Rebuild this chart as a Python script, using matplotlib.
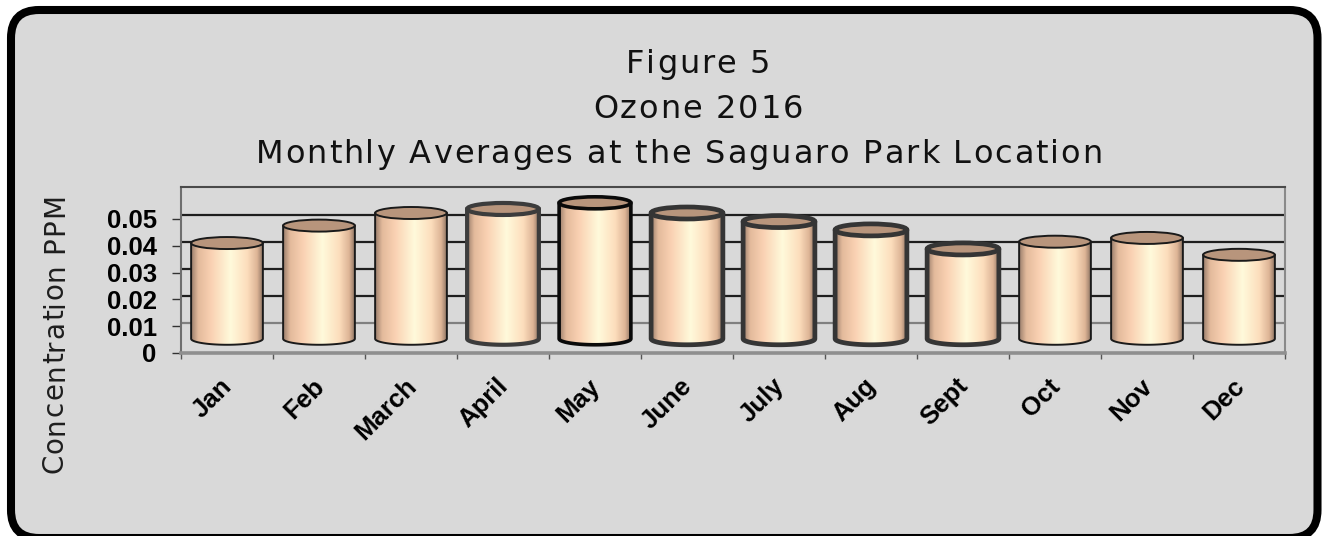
import numpy as np
import matplotlib
matplotlib.use("Agg")
import matplotlib.pyplot as plt
from matplotlib.patches import FancyBboxPatch, Ellipse, Polygon
from matplotlib.transforms import ScaledTranslation
from matplotlib.colors import LinearSegmentedColormap
from matplotlib.font_manager import FontProperties, findfont, get_font

# ---------------- data ----------------
months = ["Jan", "Feb", "March", "April", "May", "June",
          "July", "Aug", "Sept", "Oct", "Nov", "Dec"]
ozone_ppm = [0.0397, 0.0462, 0.0509, 0.0524, 0.0547, 0.0509,
             0.0477, 0.0446, 0.0375, 0.0402, 0.0416, 0.0353]
y_ticks = [0, 0.01, 0.02, 0.03, 0.04, 0.05]
y_tick_labels = ["0", "0.01", "0.02", "0.03", "0.04", "0.05"]
title_lines = ["Figure 5", "Ozone 2016",
               "Monthly Averages at the Saguaro Park Location"]
y_label = "Concentration PPM"

# ---------------- styles ----------------
edge_colors = ["#1a1a1a", "#1a1a1a", "#1a1a1a", "#3c3c3c", "#0a0a0a", "#353535",
               "#353535", "#353535", "#353535", "#1a1a1a", "#1a1a1a", "#1a1a1a"]
edge_widths = [1.4, 1.4, 1.4, 3.0, 2.6, 3.4, 3.4, 3.4, 3.4, 1.4, 1.4, 1.4]
grid_colors = ["#808080", "#1e1e1e", "#1e1e1e", "#1e1e1e", "#1e1e1e"]
top_fill = "#b8957c"
grad_cmap = LinearSegmentedColormap.from_list("cyl", [
    (0.00, (0.60, 0.49, 0.42)),
    (0.10, (0.89, 0.73, 0.61)),
    (0.28, (0.98, 0.82, 0.70)),
    (0.55, (1.00, 0.98, 0.86)),
    (0.78, (0.99, 0.87, 0.74)),
    (0.92, (0.87, 0.71, 0.59)),
    (1.00, (0.56, 0.46, 0.39)),
])

W, H = 1324, 536
DPI = 100
fig = plt.figure(figsize=(W / DPI, H / DPI), dpi=DPI)
fig.patch.set_facecolor("white")

# background rounded frame (pixel coordinates, y downward)
bg = fig.add_axes([0, 0, 1, 1])
bg.set_xlim(0, W)
bg.set_ylim(H, 0)
bg.axis("off")
bg.add_patch(FancyBboxPatch((11, 10), 1306.5, 528,
                            boxstyle="round,pad=0,rounding_size=28",
                            fc="#d9d9d9", ec="black", lw=5.8))


def char_advances(s, size_pt, family):
    fp = FontProperties(family=family, size=size_pt)
    font = get_font(findfont(fp))
    font.set_size(size_pt, DPI)
    adv = []
    for c in s:
        g = font.load_char(ord(c))
        adv.append(g.linearHoriAdvance / 65536.0)
    return adv


def spaced_text(s, size_pt, family, tracking, color, x=None, y=None,
                center=None, vertical=False):
    adv = char_advances(s, size_pt, family)
    total = sum(adv) + tracking * (len(s) - 1)
    pos = 0.0
    if vertical:
        start = center + total / 2
        for c, a in zip(s, adv):
            bg.text(x, start - pos, c, rotation=90, rotation_mode="anchor",
                    ha="left", va="baseline", fontsize=size_pt,
                    family=family, color=color)
            pos += a + tracking
    else:
        start = center - total / 2
        for c, a in zip(s, adv):
            bg.text(start + pos, y, c, ha="left", va="baseline",
                    fontsize=size_pt, family=family, color=color)
            pos += a + tracking


# titles
title_pos = [(698, 73), (698, 118), (679, 163)]
for (tx, ty), s in zip(title_pos, title_lines):
    spaced_text(s, 23, "DejaVu Sans", 1.9, "#111111", y=ty, center=tx)

spaced_text(y_label, 20, "DejaVu Sans", 1.1, "#1e1e1e", x=63, center=333,
            vertical=True)

# main axes
ax_left, ax_right, ax_bottom, ax_top = 181, 1285, 353, 187
ax = fig.add_axes([ax_left / W, 1 - ax_bottom / H,
                   (ax_right - ax_left) / W, (ax_bottom - ax_top) / H])
ax.patch.set_alpha(0)
YMAX = 0.0619
XMIN, XMAX = -0.5, len(months) - 0.5
px = YMAX / (ax_bottom - ax_top)  # data units per pixel

shift = ScaledTranslation(0, 3.5 / DPI, fig.dpi_scale_trans)
tr = ax.transData + shift

# back-wall gridlines
for v, gc in zip(y_ticks[1:], grid_colors):
    ax.plot([XMIN, XMAX], [v, v], transform=tr, color=gc, lw=1.6, zorder=1)

# cylinders
FLOOR = 0.004
bw = 0.78
eh = 6 * px
grad = grad_cmap(np.linspace(0, 1, 256))[None, :, :3]
t = np.linspace(np.pi, 2 * np.pi, 60)
for i, v in enumerate(ozone_ppm):
    x0, x1 = i - bw / 2, i + bw / 2
    arc_x = i + bw / 2 * np.cos(t)
    arc_y = FLOOR + eh * np.sin(t)
    verts = [(x0, v)] + list(zip(arc_x, arc_y)) + [(x1, v)]
    poly = Polygon(verts, closed=True, transform=tr)
    im = ax.imshow(grad, extent=[x0, x1, FLOOR - eh, v], aspect="auto",
                   transform=tr, interpolation="bilinear", zorder=3,
                   origin="lower")
    im.set_clip_path(poly)
    ox = [x0] + list(arc_x) + [x1]
    oy = [v] + list(arc_y) + [v]
    ax.plot(ox, oy, transform=tr, color=edge_colors[i], lw=edge_widths[i],
            zorder=4, solid_joinstyle="round", solid_capstyle="round")
    ax.add_patch(Ellipse((i, v), bw, 2 * eh, transform=tr, fc=top_fill,
                         ec=edge_colors[i], lw=edge_widths[i], zorder=5))

ax.set_xlim(XMIN, XMAX)
ax.set_ylim(0, YMAX)

# axes styling
ax.spines["left"].set_color("#6e6e6e")
ax.spines["left"].set_linewidth(1.5)
ax.spines["bottom"].set_color("#8f8f8f")
ax.spines["bottom"].set_linewidth(2.6)
ax.spines["top"].set_color("#4a4a4a")
ax.spines["top"].set_linewidth(1.5)
ax.spines["right"].set_color("#8a8a8a")
ax.spines["right"].set_linewidth(1.5)

ax.set_yticks(y_ticks)
ax.set_yticklabels(y_tick_labels, fontsize=18.5, fontweight="bold",
                   family="Liberation Sans", color="black")
ax.tick_params(axis="y", direction="out", length=6.5, width=1.0,
               color="#333333", pad=11)

ax.set_xticks(np.arange(XMIN, XMAX + 0.01, 1.0))
ax.set_xticklabels([])
ax.tick_params(axis="x", direction="out", length=4, width=1.0, color="#555555")

lab_shift = ScaledTranslation(-7 / DPI, -21 / DPI, fig.dpi_scale_trans)
for i, m in enumerate(months):
    ax.text(i, 0, m, transform=ax.transData + lab_shift, rotation=45,
            rotation_mode="anchor", ha="right", va="top", fontsize=18.5,
            fontweight="bold", family="Liberation Sans", color="black")

fig.savefig("out.png", dpi=DPI, facecolor="white")
